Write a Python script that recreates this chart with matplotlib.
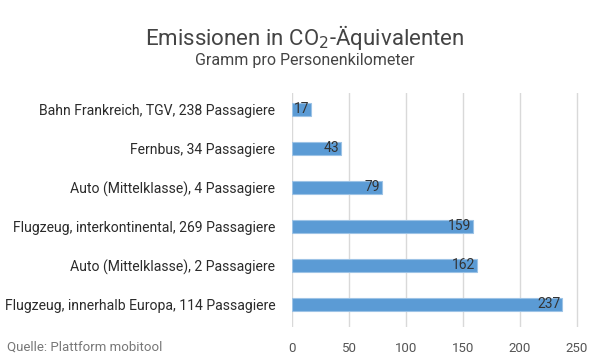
import matplotlib.pyplot as plt

categories = [
    "Bahn Frankreich, TGV, 238 Passagiere",
    "Fernbus, 34 Passagiere",
    "Auto (Mittelklasse), 4 Passagiere",
    "Flugzeug, interkontinental, 269 Passagiere",
    "Auto (Mittelklasse), 2 Passagiere",
    "Flugzeug, innerhalb Europa, 114 Passagiere",
]
values = [17, 43, 79, 159, 162, 237]
xticks = [0, 50, 100, 150, 200, 250]

plt.rcParams['font.family'] = ['Roboto', 'DejaVu Sans']

fig = plt.figure(figsize=(6.09, 3.63), dpi=100)
ax = fig.add_axes([292 / 609, 1 - 327 / 363, (577 - 292) / 609 * 252 / 250, (327 - 93) / 363])

ypos = list(range(len(categories)))
ax.barh(ypos, values, height=0.33, color='#5B9BD5', edgecolor='#9DC3E6', linewidth=0.8, zorder=3)
for y, v in zip(ypos, values):
    ax.text(v - 1.5, y, str(v), ha='right', va='center', fontsize=10, color='#333333', zorder=4)

ax.set_ylim(len(categories) - 0.42, -0.42)
ax.set_xlim(0, 252)
ax.set_yticks(ypos)
ax.set_yticklabels(categories, fontsize=10.1, color='#2b2b2b')
ax.set_xticks(xticks)
ax.set_xticklabels([str(t) for t in xticks], fontsize=9.5, color='#555555')
ax.tick_params(axis='both', length=0)
ax.tick_params(axis='y', pad=12)
ax.tick_params(axis='x', pad=11)
ax.grid(axis='x', color='#D9D9D9', linewidth=1, zorder=0)
for s in ax.spines.values():
    s.set_visible(False)

fig.text(0.5, 1 - 37 / 363, "Emissionen in CO$_2$-Äquivalenten", ha='center', va='center',
         fontsize=16, color='#444444')
fig.text(0.5, 1 - 60 / 363, "Gramm pro Personenkilometer", ha='center', va='center',
         fontsize=11.5, color='#444444')
fig.text(7 / 609, 1 - 347 / 363, "Quelle: Plattform mobitool", ha='left', va='center',
         fontsize=9.5, color='#777777')

fig.savefig('out.png', dpi=100)
